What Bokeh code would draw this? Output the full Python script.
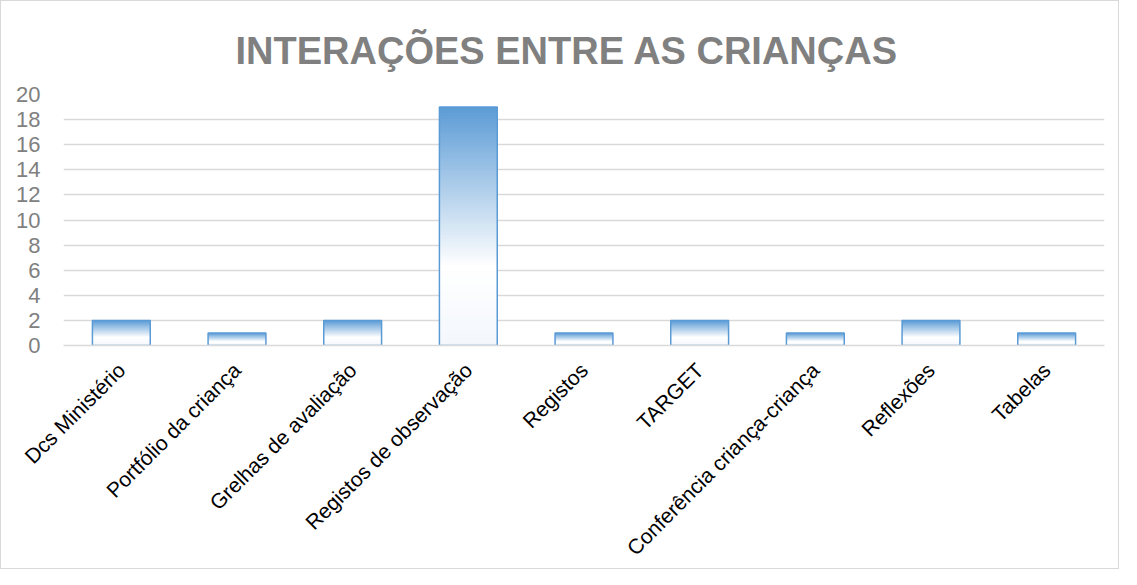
from math import pi
from bokeh.plotting import figure
from bokeh.models import Range1d, Title
from bokeh.embed import file_html
from bokeh.resources import INLINE

title_text = "INTERAÇÕES ENTRE AS CRIANÇAS"
categories = ["Dcs Ministério", "Portfólio da criança", "Grelhas de avaliação",
              "Registos de observação", "Registos", "TARGET",
              "Conferência criança-criança", "Reflexões", "Tabelas"]
values = [2, 1, 2, 19, 1, 2, 1, 2, 1]
y_ticks = [0, 2, 4, 6, 8, 10, 12, 14, 16, 18, 20]

FONT = "Liberation Sans"
GREY = "#808080"
BLUE = (91, 155, 213)
BOTTOM = (243, 247, 252)
WHITE_AT = 0.33

def grad(t):
    if t >= WHITE_AT:
        f = (t - WHITE_AT) / (1 - WHITE_AT)
        c = tuple(round(255 + (b - 255) * f) for b in BLUE)
    else:
        f = t / WHITE_AT
        c = tuple(round(a + (255 - a) * f) for a in BOTTOM)
    return "#%02x%02x%02x" % c

p = figure(x_range=categories, y_range=Range1d(0, 20), width=1119, height=569,
           output_backend="svg", toolbar_location=None,
           min_border_left=62, min_border_right=16, min_border_bottom=225,
           min_border_top=93)
p.styles = {"border": "1px solid #d9d9d9"}
p.outline_line_color = None

p.title = Title(text=title_text, align="left", text_font=FONT,
                text_font_size="38px", text_font_style="bold",
                text_color=GREY, offset=172, standoff=45)

# gradient slices drawn from data values (each slice spans to the bar top,
# later slices paint over earlier ones, so no seams)
N = 80
xs, bots, tops, cols = [], [], [], []
for c, v in zip(categories, values):
    for k in range(N):
        xs.append(c)
        bots.append(v * k / N)
        tops.append(v)
        cols.append(grad((k + 0.5) / N))
p.vbar(x=xs, bottom=bots, top=tops, width=0.5, fill_color=cols, line_color=None)
p.vbar(x=categories, top=values, width=0.5, fill_color=None,
       line_color="#5b9bd5", line_width=1.5)

p.yaxis.ticker = y_ticks
p.yaxis.axis_line_color = None
p.yaxis.major_tick_line_color = None
p.yaxis.minor_tick_line_color = None
p.yaxis.major_label_standoff = 17
p.yaxis.major_label_text_font = FONT
p.yaxis.major_label_text_font_size = "22px"
p.yaxis.major_label_text_color = GREY

p.xaxis.axis_line_color = "#d9d9d9"
p.xaxis.axis_line_width = 1.5
p.xaxis.major_tick_line_color = None
p.xaxis.major_label_orientation = pi / 4
p.xaxis.major_label_standoff = 15
p.xaxis.major_label_text_font = FONT
p.xaxis.major_label_text_font_size = "21px"
p.xaxis.major_label_text_color = "#000000"

p.xgrid.grid_line_color = None
p.ygrid.grid_line_color = "#d9d9d9"
p.ygrid.grid_line_width = 1.5

open("out.html", "w").write(file_html(p, INLINE))
